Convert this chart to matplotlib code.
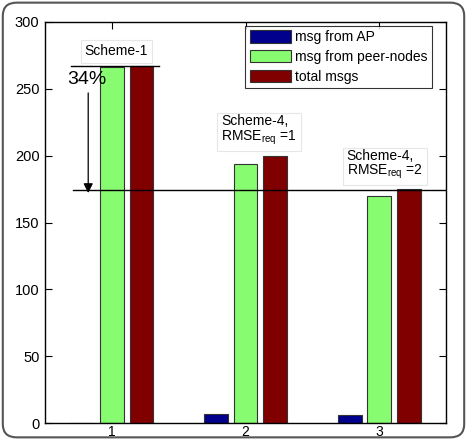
import numpy as np
import matplotlib
matplotlib.use("Agg")
import matplotlib.pyplot as plt
from matplotlib.patches import FancyBboxPatch

plt.rcParams['font.family'] = ['Liberation Sans', 'DejaVu Sans']

groups = [1, 2, 3]
msg_ap = [0, 7, 6]
msg_peer = [266, 194, 170]
total_msgs = [267, 200, 175]
series_names = ['msg from AP', 'msg from peer-nodes', 'total msgs']
colors = ['#00008C', '#88FC70', '#800000']

fig = plt.figure(figsize=(4.67, 4.4), dpi=100)
ax = fig.add_axes([0.0964, 0.0386, 0.859, 0.9114])

x = np.array(groups)
off = 0.222
w = 0.178
for i, vals in enumerate([msg_ap, msg_peer, total_msgs]):
    ax.bar(x + (i - 1) * off, vals, w, color=colors[i], edgecolor='#333333',
           linewidth=0.8, label=series_names[i], zorder=2)

ax.set_xlim(0.5, 3.5)
ax.set_ylim(0, 300)
ax.set_xticks(groups)
ax.set_yticks(np.arange(0, 301, 50))
ax.tick_params(direction='in', length=5, top=True, right=True, labelsize=10.5, pad=4)
ax.tick_params(axis='x', pad=1.5, labelsize=10)
for s in ax.spines.values():
    s.set_linewidth(1.0)

# reference lines and arrow
ax.plot([0.695, 1.35], [267, 267], color='black', lw=1.0, zorder=3)
ax.plot([0.708, 3.5], [174, 174], color='black', lw=1.0, zorder=3)
ax.annotate('', xy=(0.823, 170), xytext=(0.823, 249),
            arrowprops=dict(arrowstyle='-|>', color='black', lw=0.9,
                            mutation_scale=14), zorder=3)
ax.text(0.816, 257, '34%', fontsize=14, ha='center', va='center', zorder=4)

box = dict(boxstyle='square,pad=0.3', facecolor='white', edgecolor='#e6e6e6', lw=0.8)
ax.text(1.034, 278, 'Scheme-1', fontsize=10, ha='center', va='center', bbox=box, zorder=4)
ax.text(1.816, 231, 'Scheme-4,\n$\\mathregular{RMSE_{req}}$ =1', fontsize=10,
        ha='left', va='top', linespacing=1.0, bbox=box, zorder=4)
ax.text(2.756, 205, 'Scheme-4,\n$\\mathregular{RMSE_{req}}$ =2', fontsize=10,
        ha='left', va='top', linespacing=1.0, bbox=box, zorder=4)

leg = ax.legend(loc='upper right', bbox_to_anchor=(432 / 467, 1 - 26 / 440),
                bbox_transform=fig.transFigure, fontsize=10, frameon=True,
                fancybox=False, handlelength=3.0, handleheight=1.0,
                borderpad=0.3, labelspacing=0.42, handletextpad=0.3,
                borderaxespad=0)
leg.get_frame().set_edgecolor('black')
leg.get_frame().set_linewidth(0.8)

# rounded outer frame
frame = FancyBboxPatch((0.006, 0.006), 0.988, 0.988,
                       boxstyle='round,pad=0,rounding_size=0.03',
                       transform=fig.transFigure, facecolor='none',
                       edgecolor='#555555', lw=1.5)
fig.patches.append(frame)

fig.savefig('out.png', dpi=100)
